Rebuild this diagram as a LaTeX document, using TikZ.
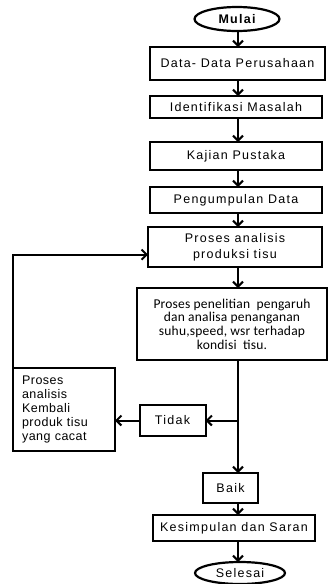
\documentclass[tikz,border=0pt]{standalone}
\usepackage{fontspec}
\setmainfont{Liberation Sans}
\newfontfamily\wordfont[LetterSpace=10]{Liberation Sans}
\newfontfamily\notefont[LetterSpace=4]{Liberation Sans}
\newfontfamily\calibrifont[LetterSpace=1.5]{Carlito}
\usepackage{tikz}
\usetikzlibrary{arrows.meta}
\usetikzlibrary{shapes.geometric}

\begin{document}
\begin{tikzpicture}[x=1pt, y=-1pt,
    %Option for nice arrows
    >={Straight Barb[length=5pt,width=10pt]}, %
    inner sep=2pt, outer sep=0pt,%
    box/.style={draw, line width=2pt, align=center, font=\wordfont\fontsize{12.5}{14}\selectfont},
    terminal/.style={ellipse, draw, line width=2.2pt, inner sep=0pt, font=\wordfont\fontsize{12.5}{14}\selectfont},
    flow/.style={line width=2pt,->},
]
    % Frame
    \useasboundingbox (0,0) rectangle (330,584);
    \coordinate (spine) at (238,0);

    % Main column
    \node[terminal, minimum width=85, minimum height=24, font=\wordfont\bfseries\fontsize{12.5}{14}\selectfont] (mulai) at (237,19) {Mulai};
    \node[box, minimum width=175, minimum height=33] (data) at (237.5,63.5) {Data- Data Perusahaan};
    \node[box, minimum width=172, minimum height=22] (identifikasi) at (236,107) {Identifikasi Masalah};
    \node[box, minimum width=172, minimum height=28] (kajian) at (236,156) {Kajian Pustaka};
    \node[box, minimum width=172, minimum height=26] (pengumpulan) at (236,200) {Pengumpulan Data};
    \node[box, minimum width=174, minimum height=40] (analisis) at (235,247) {Proses analisis\\[2pt]produksi tisu};
    \node[box, minimum width=190, minimum height=72, font=\calibrifont\fontsize{13.5}{13.7}\selectfont] (penelitian) at (232,324)
        {Proses penelitian\ \ pengaruh\\dan analisa penanganan\\suhu,speed, wsr terhadap\\kondisi\ \ tisu.};
    \node[box, minimum width=55, minimum height=30] (baik) at (230.5,488) {Baik};
    \node[box, minimum width=162, minimum height=26] (kesimpulan) at (234,528) {Kesimpulan dan Saran};
    \node[terminal, minimum width=90, minimum height=22] (selesai) at (240,573) {Selesai};

    % Rejected branch
    \node[box, minimum width=66, minimum height=31] (tidak) at (172.5,420.5) {Tidak};
    \node[box, align=left, text width=84, inner xsep=9pt, minimum height=83, font=\notefont\fontsize{12.5}{14}\selectfont] (kembali) at (64,409.5)
        {Proses\\analisis\\Kembali\\produk tisu\\yang cacat};

    % Arrows
    \foreach \a/\b in {mulai/data, data/identifikasi, identifikasi/kajian, kajian/pengumpulan,
        pengumpulan/analisis, analisis/penelitian, penelitian/baik, baik/kesimpulan, kesimpulan/selesai}
        \draw[flow] (\a.south -| spine) -- (\b.north -| spine);
    \draw[flow] (spine |- tidak.east) -- (tidak.east);
    \draw[flow] (tidak.west) -- (tidak.west -| kembali.east);
    \draw[flow] (kembali.north west) |- (analisis.185);

\end{tikzpicture}
\end{document}
